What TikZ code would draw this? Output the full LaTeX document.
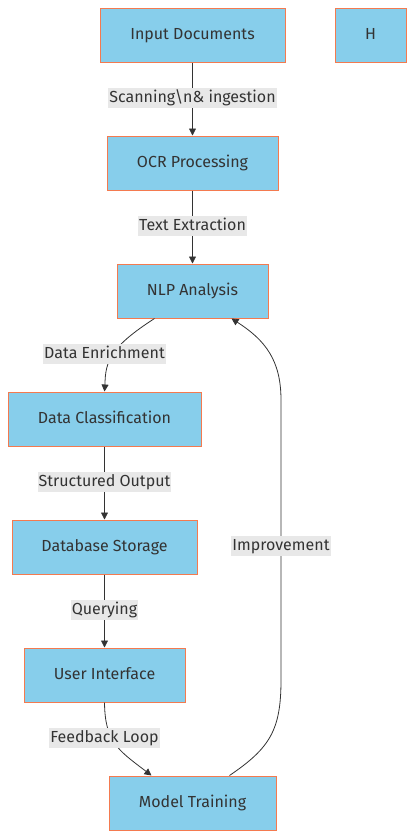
\documentclass[tikz,border=0pt]{standalone}
\usepackage{fontspec}
\setmainfont{Fira Sans}
\usetikzlibrary{arrows.meta,calc}
\definecolor{boxfill}{HTML}{87CEEB}
\definecolor{boxline}{HTML}{F47A4F}
\definecolor{txt}{HTML}{333333}
\definecolor{lblbg}{HTML}{E8E8E8}
\tikzset{
  box/.style={draw=boxline, line width=1pt, fill=boxfill, text=txt, inner sep=0pt, text height=11pt, text depth=3pt, font=\fontsize{16}{19}\selectfont},
  lbl/.style={fill=lblbg, text=txt, inner xsep=1pt, inner ysep=3pt, text height=11pt, text depth=3pt, font=\fontsize{16}{19}\selectfont},
  conn/.style={draw=txt, line width=0.8pt, -{Triangle[length=7pt,width=7pt]}},
}
\begin{document}
\begin{tikzpicture}[x=1pt,y=-1pt]
\useasboundingbox (0,0) rectangle (414,838);
\node[box, minimum width=185pt, minimum height=54pt] (in) at (192.5,35) {Input Documents};
\node[box, minimum width=71pt, minimum height=54pt] (h) at (370.5,35) {H};
\node[box, minimum width=171pt, minimum height=54pt] (ocr) at (192.5,163) {OCR Processing};
\node[box, minimum width=151pt, minimum height=54pt] (nlp) at (192.5,291) {NLP Analysis};
\node[box, minimum width=193pt, minimum height=54pt] (dc) at (104.5,419) {Data Classification};
\node[box, minimum width=185pt, minimum height=54pt] (db) at (104.5,547) {Database Storage};
\node[box, minimum width=161pt, minimum height=54pt] (ui) at (104.5,675) {User Interface};
\node[box, minimum width=167pt, minimum height=54pt] (mt) at (192.5,803) {Model Training};

\coordinate (nlpL) at ($(nlp.south west)+(38,0)$);
\coordinate (nlpR) at ($(nlp.south west)+(115,0)$);
\coordinate (mtL) at ($(mt.north west)+(43,0)$);
\coordinate (mtR) at ($(mt.north west)+(121,0)$);

\draw[conn] (in) -- (ocr);
\draw[conn] (ocr) -- (nlp);
\draw[conn] (nlpL) .. controls (112,346) and (105,360) .. (105,385) -- (dc.north);
\draw[conn] (dc) -- (db);
\draw[conn] (db) -- (ui);
\draw[conn] (ui.south) .. controls (105,742) and (118,750) .. (mtL);
\draw[conn] (mtR) .. controls (270,748) and (281,730) .. (281,680) -- (281,400) .. controls (281,360) and (265,340) .. (nlpR);

\node[lbl] (l1) at (192.5,98) {Scanning\textbackslash n\& ingestion};
\node[lbl] (l2) at (192.5,226) {Text Extraction};
\node[lbl] (l3) at (104.5,354) {Data Enrichment};
\node[lbl] (l4) at (104.5,482) {Structured Output};
\node[lbl] (l5) at (104.5,610) {Querying};
\node[lbl] (l6) at (104.5,738) {Feedback Loop};
\node[lbl] (l7) at (281,546) {Improvement};
\end{tikzpicture}
\end{document}
